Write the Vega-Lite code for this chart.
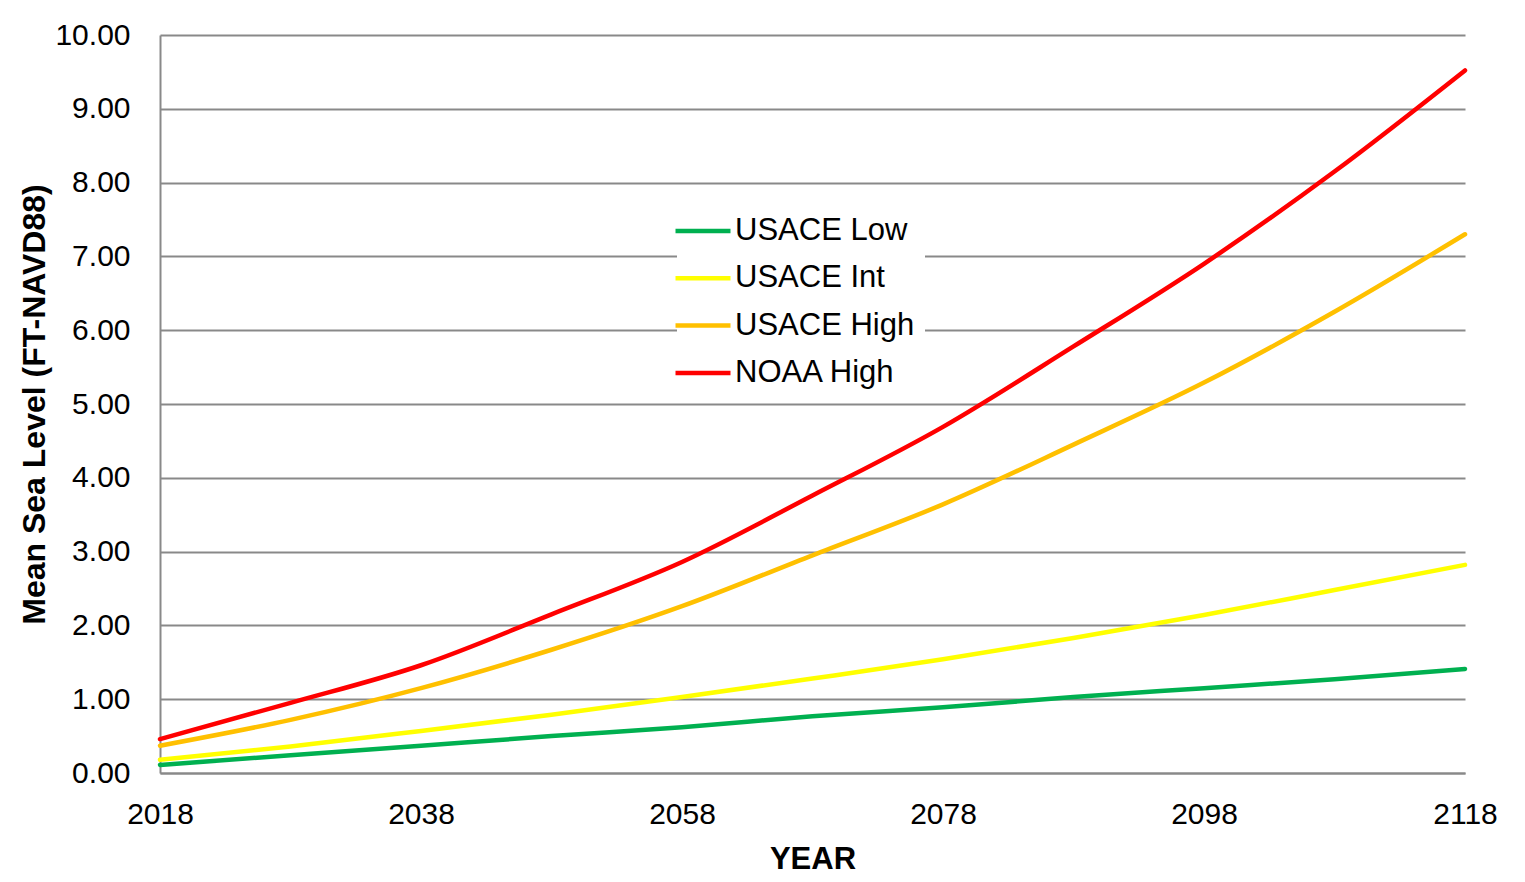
{
  "$schema": "https://vega.github.io/schema/vega-lite/v6.json",
  "width": 1305,
  "height": 738,
  "autosize": {"type": "none"},
  "padding": {"left": 160, "top": 35, "right": 60, "bottom": 109},
  "background": "white",
  "config": {"view": {"stroke": null}, "font": "Liberation Sans"},
  "data": {
    "values": [
      {"year": 2018, "series": "USACE Low", "msl": 0.11},
      {"year": 2028, "series": "USACE Low", "msl": 0.24},
      {"year": 2038, "series": "USACE Low", "msl": 0.37},
      {"year": 2048, "series": "USACE Low", "msl": 0.50},
      {"year": 2058, "series": "USACE Low", "msl": 0.62},
      {"year": 2068, "series": "USACE Low", "msl": 0.77},
      {"year": 2078, "series": "USACE Low", "msl": 0.89},
      {"year": 2088, "series": "USACE Low", "msl": 1.03},
      {"year": 2098, "series": "USACE Low", "msl": 1.15},
      {"year": 2108, "series": "USACE Low", "msl": 1.27},
      {"year": 2118, "series": "USACE Low", "msl": 1.41},
      {"year": 2018, "series": "USACE Int", "msl": 0.18},
      {"year": 2028, "series": "USACE Int", "msl": 0.36},
      {"year": 2038, "series": "USACE Int", "msl": 0.57},
      {"year": 2048, "series": "USACE Int", "msl": 0.79},
      {"year": 2058, "series": "USACE Int", "msl": 1.03},
      {"year": 2068, "series": "USACE Int", "msl": 1.28},
      {"year": 2078, "series": "USACE Int", "msl": 1.54},
      {"year": 2088, "series": "USACE Int", "msl": 1.83},
      {"year": 2098, "series": "USACE Int", "msl": 2.14},
      {"year": 2108, "series": "USACE Int", "msl": 2.48},
      {"year": 2118, "series": "USACE Int", "msl": 2.82},
      {"year": 2018, "series": "USACE High", "msl": 0.37},
      {"year": 2028, "series": "USACE High", "msl": 0.72},
      {"year": 2038, "series": "USACE High", "msl": 1.15},
      {"year": 2048, "series": "USACE High", "msl": 1.67},
      {"year": 2058, "series": "USACE High", "msl": 2.26},
      {"year": 2068, "series": "USACE High", "msl": 2.95},
      {"year": 2078, "series": "USACE High", "msl": 3.64},
      {"year": 2088, "series": "USACE High", "msl": 4.45},
      {"year": 2098, "series": "USACE High", "msl": 5.29},
      {"year": 2108, "series": "USACE High", "msl": 6.25},
      {"year": 2118, "series": "USACE High", "msl": 7.30},
      {"year": 2018, "series": "NOAA High", "msl": 0.46},
      {"year": 2028, "series": "NOAA High", "msl": 0.95},
      {"year": 2038, "series": "NOAA High", "msl": 1.46},
      {"year": 2048, "series": "NOAA High", "msl": 2.15},
      {"year": 2058, "series": "NOAA High", "msl": 2.86},
      {"year": 2068, "series": "NOAA High", "msl": 3.76},
      {"year": 2078, "series": "NOAA High", "msl": 4.69},
      {"year": 2088, "series": "NOAA High", "msl": 5.78},
      {"year": 2098, "series": "NOAA High", "msl": 6.90},
      {"year": 2108, "series": "NOAA High", "msl": 8.15},
      {"year": 2118, "series": "NOAA High", "msl": 9.52}
    ]
  },
  "mark": {"type": "line", "strokeWidth": 4.5, "interpolate": "monotone", "strokeCap": "round"},
  "encoding": {
    "x": {
      "field": "year",
      "type": "quantitative",
      "scale": {"domain": [2018, 2118], "nice": false, "zero": false},
      "axis": {
        "values": [2018, 2038, 2058, 2078, 2098, 2118],
        "format": "d",
        "grid": false,
        "ticks": false,
        "tickSize": 0,
        "labelFontSize": 30,
        "labelColor": "black",
        "labelPadding": 50,
        "labelBaseline": "alphabetic",
        "labelFlush": false,
        "labelOverlap": false,
        "domainColor": "#898989",
        "domainWidth": 2,
        "title": "YEAR",
        "titleFontSize": 31,
        "titleFontWeight": "bold",
        "titleColor": "black",
        "titleX": 652.5,
        "titleY": 95,
        "titleBaseline": "alphabetic",
        "titleAlign": "center"
      }
    },
    "y": {
      "field": "msl",
      "type": "quantitative",
      "scale": {"domain": [0, 10], "nice": false},
      "axis": {
        "values": [0, 1, 2, 3, 4, 5, 6, 7, 8, 9, 10],
        "format": ".2f",
        "grid": true,
        "gridColor": "#898989",
        "gridWidth": 2,
        "ticks": false,
        "tickSize": 0,
        "labelFontSize": 30,
        "labelColor": "black",
        "labelPadding": 30,
        "domainColor": "#898989",
        "domainWidth": 2,
        "title": "Mean Sea Level (FT-NAVD88)",
        "titleFontSize": 32,
        "titleFontWeight": "bold",
        "titleColor": "black",
        "titleX": -116,
        "titleY": 369,
        "titleAngle": -90,
        "titleAlign": "center",
        "titleBaseline": "alphabetic"
      }
    },
    "color": {
      "field": "series",
      "type": "nominal",
      "sort": ["USACE Low", "USACE Int", "USACE High", "NOAA High"],
      "scale": {
        "domain": ["USACE Low", "USACE Int", "USACE High", "NOAA High"],
        "range": ["#00B050", "#FFFF00", "#FFC000", "#FF0000"]
      },
      "legend": {
        "title": null,
        "orient": "none",
        "legendX": 517,
        "legendY": 170,
        "fillColor": "white",
        "padding": 10,
        "symbolType": "M-2,0H2",
        "symbolSize": 756,
        "symbolStrokeWidth": 4.5,
        "labelFontSize": 31,
        "labelColor": "black",
        "labelLimit": 0,
        "labelOffset": 16,
        "rowPadding": 16.3
      }
    }
  }
}
